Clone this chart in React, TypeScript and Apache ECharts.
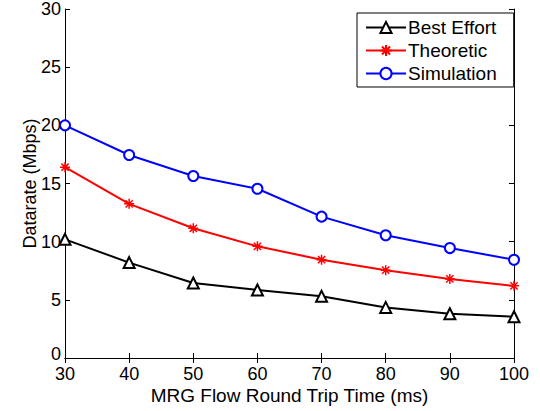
import React, { useEffect, useRef } from "react";
import * as echarts from "echarts";

const rtt = [30, 40, 50, 60, 70, 80, 90, 100];
const bestEffort = [10.2, 8.2, 6.45, 5.85, 5.3, 4.35, 3.8, 3.55];
const theoretic = [16.4, 13.25, 11.15, 9.6, 8.45, 7.55, 6.8, 6.2];
const simulation = [20.0, 17.45, 15.65, 14.55, 12.15, 10.55, 9.45, 8.45];
const yTicks = { min: 0, max: 30, interval: 5 };

const STAR = "path://M0,-5L0,5M-5,0L5,0M-3.6,-3.6L3.6,3.6M-3.6,3.6L3.6,-3.6";
const FONT = "Liberation Sans, Arial, Helvetica, sans-serif";

export default function App() {
  const ref = useRef<HTMLDivElement>(null);
  useEffect(() => {
    if (!ref.current) return;
    const chart = echarts.init(ref.current, undefined, { renderer: "svg" });
    const axisLine = { show: true, lineStyle: { color: "#000", width: 1 } };
    const axisTick = { show: true, inside: true, length: 5, lineStyle: { color: "#000" } };
    const mk = (name: string, data: number[], color: string, symbol: string, size: number, filled: boolean) => ({
      name,
      type: "line",
      data: rtt.map((x, i) => [x, data[i]]),
      symbol,
      symbolSize: size,
      showSymbol: true,
      lineStyle: { color, width: 2 },
      itemStyle: { color: filled ? color : "#fff", borderColor: color, borderWidth: filled ? 1.5 : 2 },
      color,
    });
    chart.setOption({
      animation: false,
      backgroundColor: "#fff",
      textStyle: { fontFamily: FONT },
      grid: { left: 65, right: 26, top: 6, bottom: 53 },
      legend: {
        orient: "vertical",
        left: 357,
        top: 13,
        padding: [5, 17, 4, 8],
        itemWidth: 40,
        itemHeight: 14,
        itemGap: 4,
        backgroundColor: "#fff",
        borderColor: "#000",
        borderWidth: 1,
        borderRadius: 0,
        textStyle: { fontSize: 19, color: "#000", fontFamily: FONT, padding: [0, 0, 0, -3] },
        data: ["Best Effort", "Theoretic", "Simulation"],
      },
      xAxis: [
        {
          type: "value",
          min: 30,
          max: 100,
          interval: 10,
          name: "MRG Flow Round Trip Time (ms)",
          nameLocation: "middle",
          nameGap: 27.5,
          nameMoveOverlap: false,
          nameTextStyle: { fontSize: 19, color: "#000", fontFamily: FONT },
          axisLine,
          axisTick,
          splitLine: { show: false },
          axisLabel: { fontSize: 18, color: "#000", margin: 6.5, fontFamily: FONT },
        },
        {
          type: "value",
          position: "top",
          min: 30,
          max: 100,
          interval: 10,
          axisLine,
          axisTick,
          splitLine: { show: false },
          axisLabel: { show: false },
        },
      ],
      yAxis: [
        {
          type: "value",
          ...yTicks,
          name: "Datarate (Mbps)",
          nameLocation: "middle",
          nameGap: 26,
          nameMoveOverlap: false,
          nameTextStyle: { fontSize: 18, color: "#000", fontFamily: FONT },
          axisLine,
          axisTick,
          splitLine: { show: false },
          axisLabel: {
            fontSize: 18,
            color: "#000",
            margin: 4,
            fontFamily: FONT,
            formatter: (v: number) => (v === 0 ? "{z|0}" : String(v)),
            rich: { z: { fontSize: 18, color: "#000", fontFamily: FONT, padding: [0, 0, 9, 0] } },
          },
        },
        {
          type: "value",
          position: "right",
          ...yTicks,
          axisLine,
          axisTick,
          splitLine: { show: false },
          axisLabel: { show: false },
        },
      ],
      series: [
        mk("Best Effort", bestEffort, "#000000", "triangle", 11, false),
        mk("Theoretic", theoretic, "#ff0000", STAR, 10, true),
        mk("Simulation", simulation, "#0000ff", "circle", 10, false),
      ],
    });
    return () => chart.dispose();
  }, []);
  return <div ref={ref} style={{ position: "absolute", left: 0, top: 0, width: 540, height: 411 }} />;
}
